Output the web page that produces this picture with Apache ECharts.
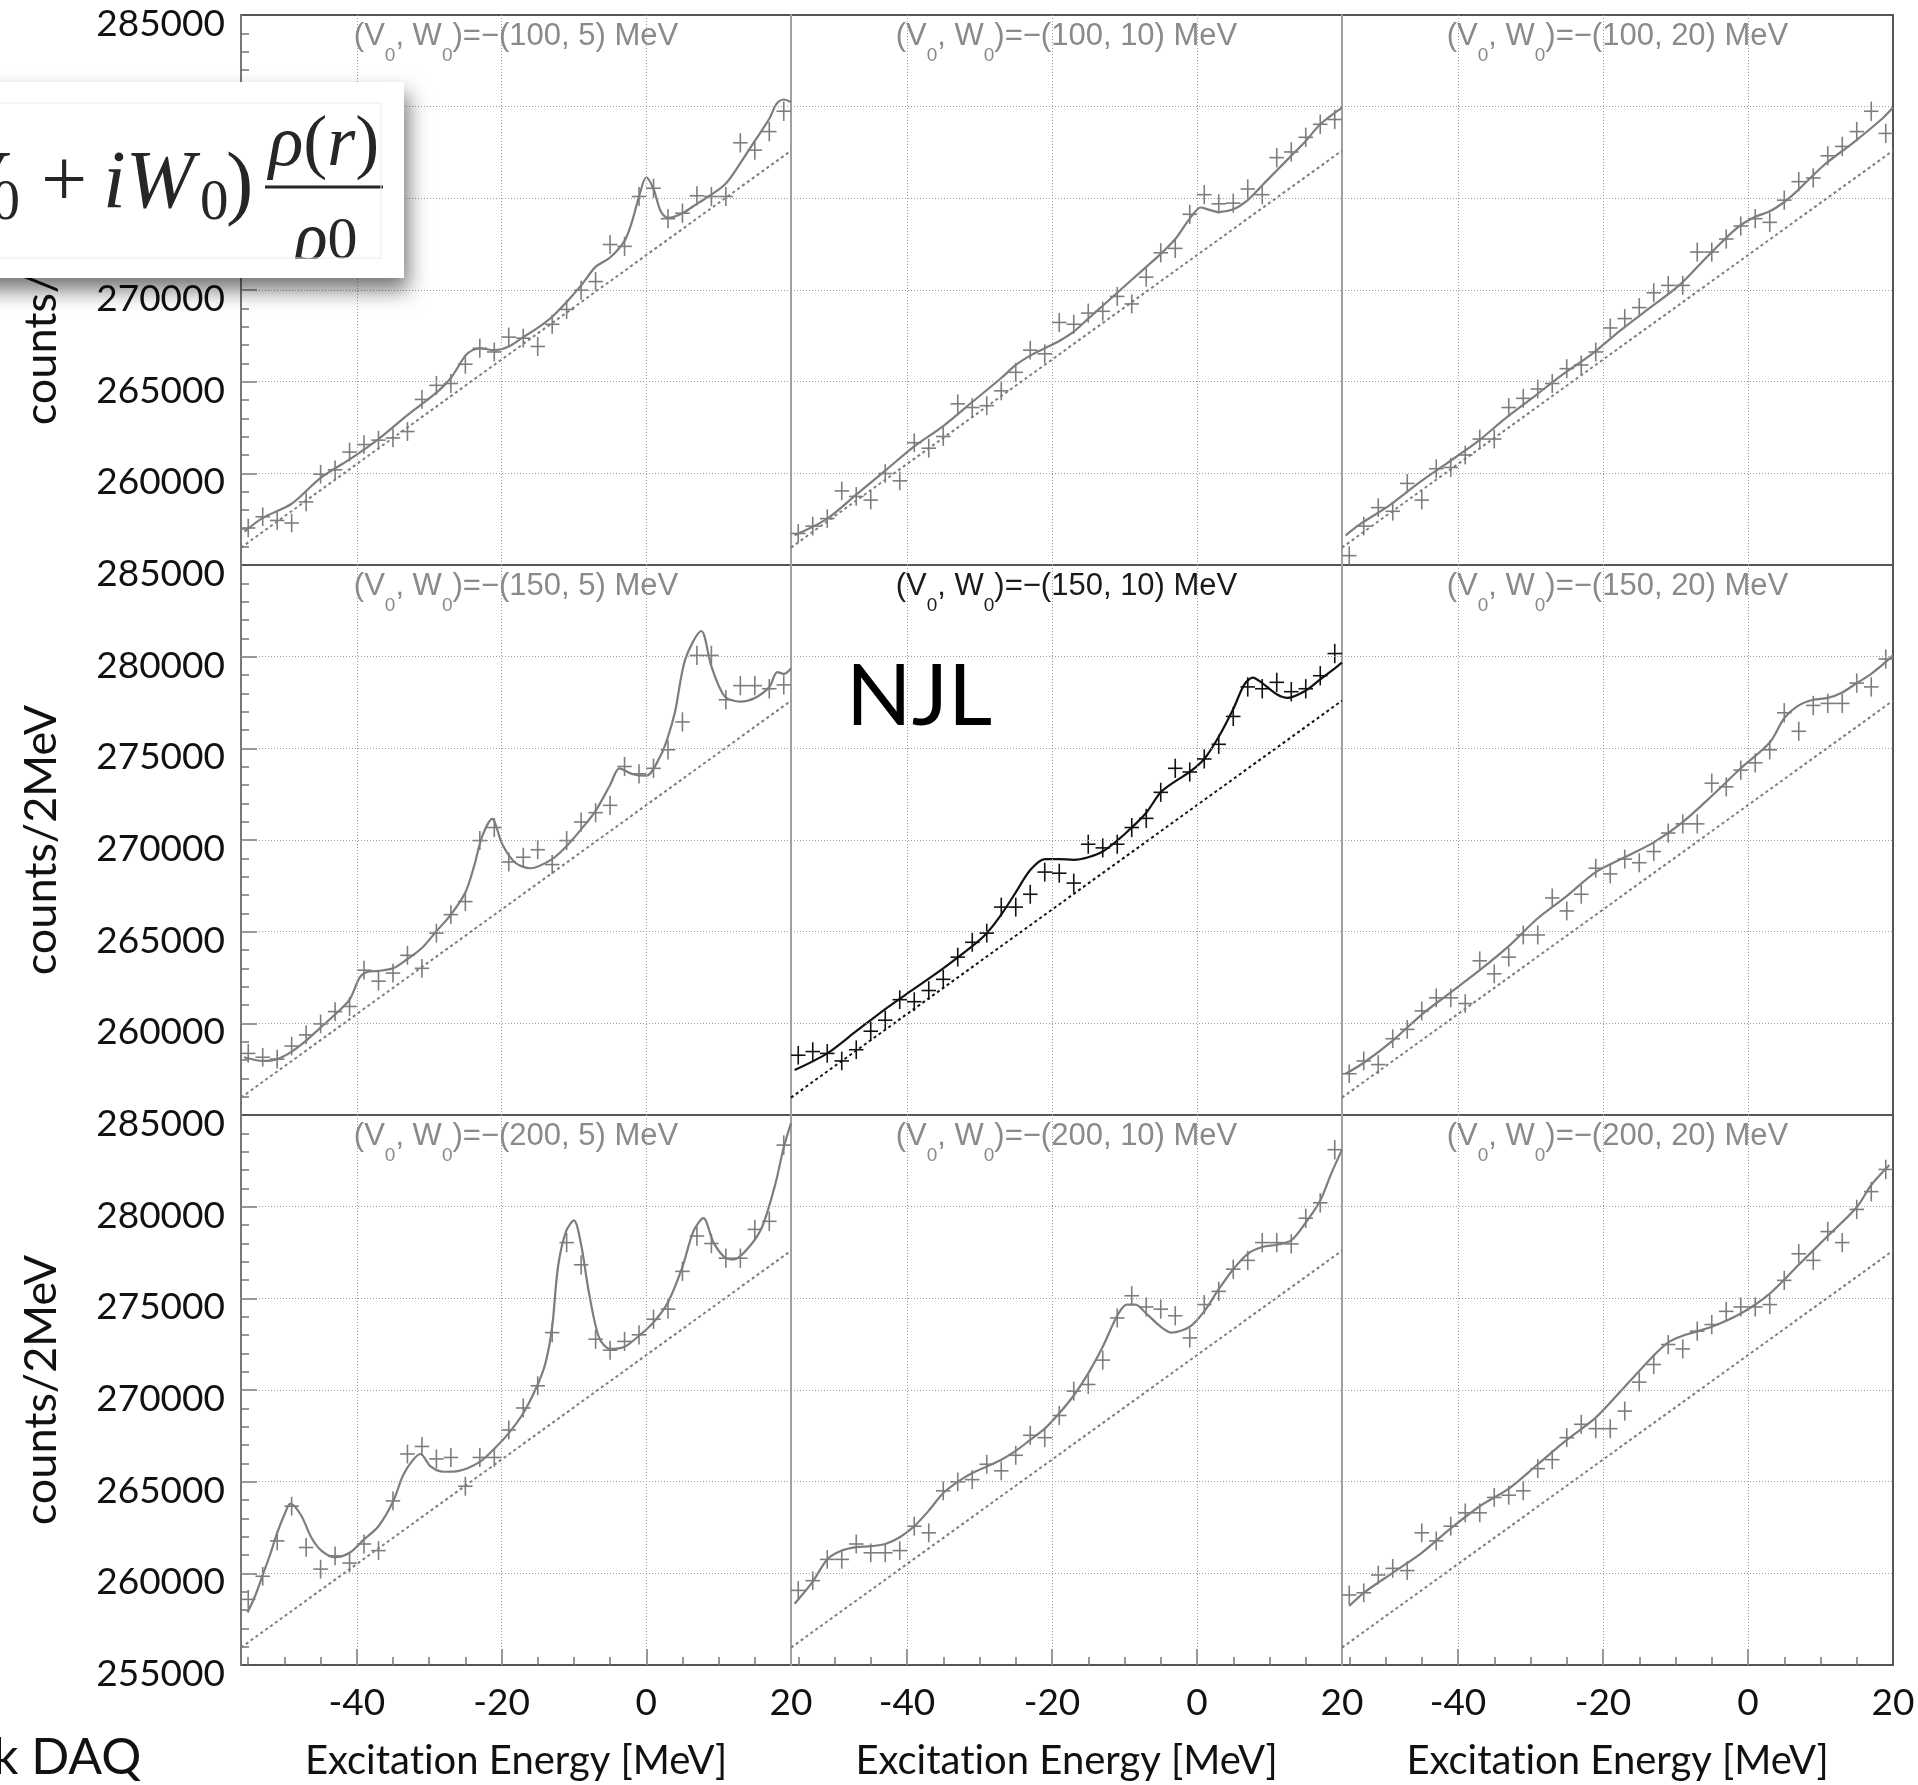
<!DOCTYPE html>
<html>
<head>
<meta charset="utf-8">
<script src="https://cdn.jsdelivr.net/npm/echarts@6/dist/echarts.min.js"></script>
<style>
  html, body { margin: 0; padding: 0; background: #fff; }
  #chart { width: 1918px; height: 1785px; }
</style>
</head>
<body>
<div id="chart"></div>
<script>
// Bin centres of the 2 MeV excitation-energy histogram
const ENERGY = [-55, -53, -51, -49, -47, -45, -43, -41, -39, -37, -35, -33, -31, -29, -27, -25, -23, -21, -19,
                -17, -15, -13, -11, -9, -7, -5, -3, -1, 1, 3, 5, 7, 9, 11, 13, 15, 17, 19];

// Linear background used in every panel
const BACKGROUND = [[-56, 255950], [20, 277600]];

// Axis ticks and labels
const X_LABELS = [-40, -20, 0, 20];
const X_MAJOR = [-40, -20, 0];
const X_MINOR = [-55, -50, -45, -35, -30, -25, -15, -10, -5, 5, 10, 15];
const Y_LABELS = [260000, 265000, 270000, 275000, 280000, 285000];
const Y_LABELS_BOTTOM = [255000, 260000, 265000, 270000, 275000, 280000, 285000];
const Y_MAJOR = [260000, 265000, 270000, 275000, 280000];
const Y_MINOR = [256000, 257000, 258000, 259000, 261000, 262000, 263000, 264000, 266000, 267000, 268000, 269000,
                 271000, 272000, 273000, 274000, 276000, 277000, 278000, 279000, 281000, 282000, 283000, 284000];

// Counts per bin, one array per potential depth (V0, W0)
const COUNTS_100_5 = [257020, 257630, 257430, 257290, 258440, 259950, 260190, 261160, 261570, 261810, 261930, 262280,
  264030, 264800, 264900, 265950, 266820, 266620, 267430, 267370, 266920, 268130, 268940, 269990, 270460, 272480,
  272380, 275100, 275550, 273890, 274190, 275140, 275100, 275100, 278030, 277630, 278640, 279750];
const COUNTS_100_10 = [256720, 257120, 257530, 259040, 258740, 258540, 259990, 259590, 261670, 261370, 262010, 263790,
  263590, 263690, 264500, 265510, 266720, 266520, 268230, 268130, 268740, 268840, 269650, 269240, 270700, 272030,
  272270, 274130, 275200, 274700, 274740, 275510, 275200, 277220, 277530, 278330, 279040, 279300];
const COUNTS_100_20 = [255510, 257120, 258130, 257930, 259450, 258540, 260250, 260320, 261000, 261870, 261870, 263590,
  264090, 264600, 264900, 265710, 265910, 266620, 267930, 268440, 269040, 269850, 270250, 270250, 272070, 272070,
  272780, 273490, 273890, 273690, 274900, 275910, 276110, 277320, 277830, 278640, 279750, 278540];
const COUNTS_150_5 = [258360, 258150, 258050, 258760, 259370, 259970, 260640, 260920, 262900, 262300, 262740, 263710,
  263000, 264920, 265930, 266640, 269970, 270680, 268800, 269060, 269470, 268660, 269970, 270980, 271490, 271890,
  274010, 273610, 273910, 274920, 276440, 280070, 280070, 277650, 278420, 278420, 278250, 278460];
const COUNTS_150_10 = [258260, 258460, 258360, 257950, 258560, 259570, 260170, 261290, 261180, 261790, 262400, 263610,
  264420, 264920, 266340, 266340, 267040, 268250, 268190, 267650, 269770, 269570, 269770, 270680, 271180, 272600,
  273910, 273710, 274420, 275220, 276740, 278350, 278250, 278600, 278090, 278250, 278960, 280170];
const COUNTS_150_20 = [257250, 257950, 257750, 259160, 259670, 260680, 261390, 261390, 261080, 263410, 262700, 263610,
  264820, 264820, 266840, 266130, 267040, 268460, 268150, 268960, 268760, 269370, 270380, 270880, 270880, 273100,
  272900, 273810, 274210, 274920, 276940, 275930, 277340, 277450, 277450, 278560, 278350, 279870];
const COUNTS_200_5 = [258580, 259840, 261770, 263660, 261410, 260230, 260950, 260560, 261600, 261240, 263950, 266510,
  266920, 266240, 266320, 264750, 266320, 266320, 267820, 269020, 270230, 273130, 278040, 276830, 272770, 272170,
  272650, 273010, 273860, 274410, 276470, 278400, 277990, 277190, 277190, 278760, 279200, 283360];
const COUNTS_200_10 = [259070, 259600, 260760, 260760, 261600, 261120, 261120, 261240, 262570, 262210, 264500, 264990,
  265110, 265950, 265590, 266440, 267530, 267400, 268610, 269940, 270300, 271630, 273930, 275140, 274530, 274410,
  274050, 272840, 274660, 275380, 276590, 277070, 278040, 278040, 277970, 279370, 280210, 283110];
const COUNTS_200_20 = [258820, 258940, 259910, 260270, 260150, 262210, 261770, 262570, 263300, 263300, 264140, 264260,
  264500, 265710, 266200, 267400, 268130, 267890, 267890, 268850, 270430, 271390, 272480, 272240, 273210, 273570,
  274290, 274530, 274530, 274660, 275980, 277430, 277070, 278640, 278040, 279850, 280820, 282030];

// Calculated spectra [energy, counts]
const FIT_100_5 = [[-55.5, 256820], [-53, 257570], [-49, 258340], [-45, 259750], [-41, 260760], [-37, 261870],
  [-33, 263180], [-29, 264400], [-27, 265200], [-25, 266420], [-24, 266720], [-23, 266820], [-21, 266720],
  [-19, 266920], [-17, 267430], [-15, 267930], [-13, 268540], [-11, 269350], [-9, 270250], [-7, 271260],
  [-5, 271770], [-3, 272680], [-2, 273690], [-1, 275100], [0, 276150], [1, 275510], [2, 274290], [3, 273930],
  [5, 274190], [7, 274700], [9, 275200], [11, 275810], [13, 276920], [15, 278130], [17, 279340], [18, 280150],
  [19, 280390], [20, 280250]];
const FIT_100_10 = [[-55.5, 256620], [-51, 257530], [-47, 258840], [-43, 260150], [-39, 261470], [-35, 262580],
  [-31, 263890], [-27, 265200], [-25, 265910], [-23, 266420], [-21, 266820], [-19, 267220], [-17, 267730],
  [-15, 268440], [-13, 269140], [-11, 269850], [-9, 270560], [-7, 271260], [-5, 271970], [-3, 272780],
  [-1, 273890], [0.5, 274500], [1.5, 274400], [3, 274250], [5, 274400], [7, 274900], [9, 275710], [11, 276520],
  [13, 277320], [15, 278130], [17, 279040], [20, 279950]];
const FIT_100_20 = [[-55.5, 256620], [-53.5, 257230], [-49.5, 258240], [-45.5, 259450], [-41.5, 260560],
  [-37.5, 261670], [-33.5, 262980], [-29.5, 264190], [-25.5, 265410], [-21.5, 266520], [-17.5, 267830],
  [-13.5, 269040], [-9.5, 270250], [-5.5, 271870], [-1.5, 273390], [1, 273990], [3, 274290], [5, 274800],
  [6.5, 275300], [10.5, 276820], [14.5, 278030], [18.5, 279340], [20, 279950]];
const FIT_150_5 = [[-55.6, 258150], [-53, 257950], [-51, 258050], [-49, 258460], [-47, 259060], [-45, 259770],
  [-43, 260480], [-41, 261290], [-39.6, 262500], [-38.6, 262800], [-37, 262860], [-35, 263000], [-33, 263510],
  [-31, 264110], [-29, 265020], [-27, 265930], [-25, 267140], [-23.8, 268560], [-22.7, 270170], [-21.3, 271150],
  [-19.9, 269770], [-18.1, 268760], [-16, 268460], [-13, 268960], [-11, 269670], [-9, 270580], [-7, 271590],
  [-5, 273000], [-3.7, 273910], [-2, 273610], [0, 273510], [2, 274620], [3, 275630], [4, 277040], [5.4, 279870],
  [7.6, 281400], [9, 279470], [10.8, 277850], [13, 277550], [15, 277750], [17, 278350], [18.1, 279160],
  [19, 279060], [20, 279360]];
const FIT_150_10 = [[-55.5, 257450], [-51, 258360], [-47, 259570], [-43, 260780], [-39, 261890], [-35, 263000],
  [-31, 264210], [-29, 264920], [-27, 265930], [-25, 267140], [-23, 268360], [-21, 268960], [-19, 268960],
  [-17, 268920], [-15, 269060], [-13, 269370], [-11, 269970], [-9, 270680], [-7, 271490], [-5, 272600],
  [-3, 273200], [-1, 273710], [1, 274420], [3, 275630], [5, 277140], [6.5, 278460], [7.7, 278860], [9, 278560],
  [11, 277950], [12.5, 277750], [15, 278150], [17, 278760], [19, 279360], [20, 279670]];
const FIT_150_20 = [[-55.5, 257250], [-53, 257850], [-49, 259060], [-45, 260480], [-41, 261690], [-37, 262900],
  [-33, 264210], [-29, 265730], [-25, 266940], [-21, 268250], [-17, 269060], [-13, 269870], [-9, 270980],
  [-5, 272400], [-1, 273910], [3, 275320], [5, 276640], [7, 277340], [9, 277650], [11, 277750], [13, 278050],
  [15, 278560], [17, 279060], [20, 280070]];
const FIT_200_5 = [[-55.1, 257860], [-54, 258820], [-53, 259910], [-52, 261000], [-51, 262210], [-49.8, 263400],
  [-49.2, 263800], [-47.7, 263170], [-46.3, 261970], [-44.9, 261240], [-43, 260880], [-41, 261120], [-39, 261850],
  [-37, 262570], [-35, 263900], [-33.6, 265350], [-32.2, 266200], [-31.2, 266510], [-29.8, 265830], [-28, 265540],
  [-25.9, 265590], [-23, 266080], [-21, 266800], [-19, 267650], [-17, 268730], [-15, 270300], [-13.9, 271510],
  [-13, 273450], [-12.2, 276710], [-11.1, 278640], [-10, 279250], [-9, 277920], [-7.9, 275260], [-6.5, 272840],
  [-5, 272240], [-3, 272360], [-1, 272960], [1, 273690], [3, 274780], [5, 276710], [6.5, 278640], [7.9, 279370],
  [9.3, 278040], [11, 277190], [12.1, 277120], [14.2, 277800], [16, 278890], [17.8, 281180], [19, 283240],
  [20, 284560]];
const FIT_200_10 = [[-55.5, 258340], [-53, 259550], [-51, 260760], [-49, 261240], [-47, 261430], [-45, 261480],
  [-43, 261600], [-41, 261970], [-39, 262570], [-37, 263420], [-35, 264380], [-33, 264990], [-31, 265470],
  [-29, 265830], [-27, 266200], [-25, 266680], [-23, 267280], [-21, 267890], [-19, 268730], [-17, 269700],
  [-15, 270910], [-13, 272360], [-11, 274050], [-9.7, 274660], [-8.5, 274660], [-7, 274170], [-5, 273450],
  [-3.5, 273130], [-1, 273450], [1, 274290], [3, 275500], [5, 276590], [7, 277430], [9, 277800], [11, 277920],
  [13, 278160], [15, 279130], [17, 280340], [18.5, 281790], [20, 283110]];
const FIT_200_20 = [[-55, 258220], [-53, 258940], [-49, 260030], [-45, 261120], [-41, 262450], [-37, 263660],
  [-33, 264620], [-29, 265950], [-25, 267280], [-21, 268490], [-17, 270180], [-13, 271880], [-11, 272600],
  [-9, 272960], [-5, 273450], [-1, 274170], [3, 275260], [7, 276830], [11, 278400], [15, 279970], [17, 281180],
  [19.5, 282270]];

// Panel table, row by row (V0 = 100, 150, 200 MeV; W0 = 5, 10, 20 MeV)
const PANELS = [
  { v: 100, w: 5, counts: COUNTS_100_5, fit: FIT_100_5 },
  { v: 100, w: 10, counts: COUNTS_100_10, fit: FIT_100_10 },
  { v: 100, w: 20, counts: COUNTS_100_20, fit: FIT_100_20 },
  { v: 150, w: 5, counts: COUNTS_150_5, fit: FIT_150_5 },
  { v: 150, w: 10, counts: COUNTS_150_10, fit: FIT_150_10, highlight: true },
  { v: 150, w: 20, counts: COUNTS_150_20, fit: FIT_150_20 },
  { v: 200, w: 5, counts: COUNTS_200_5, fit: FIT_200_5 },
  { v: 200, w: 10, counts: COUNTS_200_10, fit: FIT_200_10 },
  { v: 200, w: 20, counts: COUNTS_200_20, fit: FIT_200_20 }
];

// Layout of the 3 x 3 panel matrix (pixels)
const GRID_LEFT = [241, 791, 1342];
const GRID_WIDTH = [550, 551, 551];
const GRID_TOP = [15, 565, 1115];
const GRID_HEIGHT = 550;

const GREY = '#7d7d7d';
const DARK = '#111111';
const LABEL_FONT = 'Lato, "Open Sans", sans-serif';
const PLOT_FONT = '"Liberation Sans", Arial, sans-serif';
const SERIF = '"Liberation Serif", "DejaVu Serif", serif';

const grids = [], xAxes = [], yAxes = [], series = [], graphics = [];

PANELS.forEach(function (p, i) {
  const r = Math.floor(i / 3), c = i % 3;
  const color = p.highlight ? DARK : GREY;
  const bottomRow = r === 2, firstCol = c === 0;

  grids.push({
    left: GRID_LEFT[c], top: GRID_TOP[r], width: GRID_WIDTH[c], height: GRID_HEIGHT,
    show: true, borderColor: '#555555', borderWidth: 2, backgroundColor: 'transparent'
  });

  const tickLine = { color: '#777', width: 1.5 };
  const noLine = { show: false, onZero: false };
  // main x axis: labels and long ticks
  xAxes.push({
    gridIndex: i, type: 'value', min: -56, max: 20, position: 'bottom',
    axisLine: noLine, splitLine: { show: false },
    axisTick: { show: bottomRow, inside: true, length: 16, customValues: X_MAJOR, lineStyle: tickLine },
    axisLabel: { show: bottomRow, customValues: X_LABELS, margin: 20, color: DARK,
                 fontFamily: LABEL_FONT, fontSize: 37, lineHeight: 37 }
  });
  // minor x ticks
  xAxes.push({
    gridIndex: i, type: 'value', min: -56, max: 20, position: 'bottom', show: bottomRow,
    axisLine: noLine, splitLine: { show: false }, axisLabel: { show: false },
    axisTick: { show: true, inside: true, length: 8, customValues: X_MINOR, lineStyle: tickLine }
  });
  // main y axis; its line lightens the vertical panel edges, labels sit slightly below their grid line
  yAxes.push({
    gridIndex: i, type: 'value', min: 255000, max: 285000, position: 'left',
    axisLine: { show: true, onZero: false, lineStyle: { color: firstCol ? '#777777' : '#a0a0a0', width: 2 } },
    splitLine: { show: false },
    axisTick: { show: firstCol, inside: true, length: 16, customValues: Y_MAJOR, lineStyle: tickLine },
    axisLabel: {
      show: firstCol, customValues: bottomRow ? Y_LABELS_BOTTOM : Y_LABELS, margin: 16,
      formatter: function (v) { return '{n|' + v + '}'; },
      rich: { n: { color: DARK, fontFamily: LABEL_FONT, fontSize: 37, padding: [18, 0, 0, 0] } }
    }
  });
  // minor y ticks
  yAxes.push({
    gridIndex: i, type: 'value', min: 255000, max: 285000, position: 'left', show: firstCol,
    axisLine: noLine, splitLine: { show: false }, axisLabel: { show: false },
    axisTick: { show: true, inside: true, length: 8, customValues: Y_MINOR, lineStyle: tickLine }
  });

  const xi = 2 * i, yi = 2 * i;

  // background line + dotted grid
  series.push({
    type: 'line', xAxisIndex: xi, yAxisIndex: yi, data: BACKGROUND, showSymbol: false, silent: true, z: 2,
    lineStyle: { color: color, width: 2, type: [3, 3] },
    markLine: {
      silent: true, symbol: ['none', 'none'], label: { show: false }, animation: false,
      lineStyle: { color: '#9c9c9c', width: 1, type: [1, 2] },
      emphasis: { disabled: true },
      data: X_MAJOR.map(function (v) { return { xAxis: v }; })
        .concat(Y_MAJOR.map(function (v) { return { yAxis: v }; }))
    }
  });

  // calculated spectrum
  series.push({
    type: 'line', xAxisIndex: xi, yAxisIndex: yi, data: p.fit, smooth: 0.3, showSymbol: false,
    silent: true, z: 3, lineStyle: { color: color, width: 2.2 }
  });

  // measured counts with bin width and statistical error
  series.push({
    type: 'custom', xAxisIndex: xi, yAxisIndex: yi, z: 4, silent: true, clip: false,
    data: ENERGY.map(function (e, k) { return [e, p.counts[k]]; }),
    encode: { x: 0, y: 1 },
    renderItem: function (params, api) {
      const x = api.value(0), y = api.value(1);
      const err = Math.sqrt(y);
      const a = api.coord([x - 1, y]), b = api.coord([x + 1, y]);
      const lo = api.coord([x, y - err]), hi = api.coord([x, y + err]);
      const style = { stroke: color, lineWidth: 1.6 };
      return {
        type: 'group',
        children: [
          { type: 'line', shape: { x1: a[0], y1: a[1], x2: b[0], y2: b[1] }, style: style },
          { type: 'line', shape: { x1: lo[0], y1: lo[1], x2: hi[0], y2: hi[1] }, style: style }
        ]
      };
    }
  });

  // panel caption
  graphics.push({
    type: 'text', x: GRID_LEFT[c] + GRID_WIDTH[c] / 2, y: GRID_TOP[r] + 21, z: 10,
    style: {
      text: '(V{s|0}, W{s|0})=\u2212(' + p.v + ', ' + p.w + ') MeV',
      fill: p.highlight ? '#1a1a1a' : '#8a8a8a', fontFamily: PLOT_FONT, fontSize: 31,
      align: 'center', verticalAlign: 'middle',
      rich: { s: { fontSize: 19, fontFamily: PLOT_FONT, fill: p.highlight ? '#1a1a1a' : '#8a8a8a',
                   padding: [40, 0, 0, 0] } }
    }
  });
});

// axis titles (two text runs so the font does not join "ti")
[0, 1, 2].forEach(function (c) {
  graphics.push({
    type: 'text', x: GRID_LEFT[c] + GRID_WIDTH[c] / 2, y: 1761, z: 10,
    style: { text: '{t|Excitat}{t|ion Energy [MeV]}', fill: DARK, fontFamily: LABEL_FONT, fontSize: 40,
             align: 'center', verticalAlign: 'middle',
             rich: { t: { fill: DARK, fontFamily: LABEL_FONT, fontSize: 40 } } }
  });
});
[0, 1, 2].forEach(function (r) {
  graphics.push({
    type: 'text', x: 41, y: GRID_TOP[r] + GRID_HEIGHT / 2, rotation: Math.PI / 2, z: 10,
    style: { text: 'counts/2MeV', fill: DARK, fontFamily: LABEL_FONT, fontSize: 45,
             align: 'center', verticalAlign: 'middle' }
  });
});

// model tag on the highlighted panel
graphics.push({
  type: 'text', x: 846, y: 697, z: 10,
  style: { text: 'NJL', fill: '#000', fontFamily: LABEL_FONT, fontSize: 86, align: 'left', verticalAlign: 'middle' }
});

// footer fragment
graphics.push({
  type: 'text', x: -7, y: 1758, z: 10,
  style: { text: 'k DAQ', fill: DARK, fontFamily: LABEL_FONT, fontSize: 50, align: 'left', verticalAlign: 'middle' }
});

// optical potential inset: (V0 + iW0) rho(r)/rho0
const INK = '#262626';
graphics.push(
  { type: 'rect', z: 100, shape: { x: -30, y: 82, width: 434, height: 196 },
    style: { fill: '#ffffff', shadowBlur: 20, shadowOffsetX: 4, shadowOffsetY: 12, shadowColor: 'rgba(0,0,0,0.55)' } },
  { type: 'text', z: 101, x: 2, y: 185,
    style: { text: 'V', fill: INK, fontFamily: SERIF, fontStyle: 'italic', fontSize: 82, align: 'right', verticalAlign: 'middle' } },
  { type: 'text', z: 101, x: 20, y: 204,
    style: { text: '0', fill: INK, fontFamily: SERIF, fontSize: 57, align: 'right', verticalAlign: 'middle' } },
  { type: 'text', z: 101, x: 64, y: 184,
    style: { text: '+', fill: INK, fontFamily: SERIF, fontSize: 82, align: 'center', verticalAlign: 'middle' } },
  { type: 'text', z: 101, x: 103, y: 185,
    style: { text: 'iW', fill: INK, fontFamily: SERIF, fontStyle: 'italic', fontSize: 82, align: 'left', verticalAlign: 'middle' } },
  { type: 'text', z: 101, x: 200, y: 204,
    style: { text: '0', fill: INK, fontFamily: SERIF, fontSize: 57, align: 'left', verticalAlign: 'middle' } },
  { type: 'text', z: 101, x: 226, y: 187,
    style: { text: ')', fill: INK, fontFamily: SERIF, fontSize: 82, align: 'left', verticalAlign: 'middle' } },
  { type: 'text', z: 101, x: 324, y: 146,
    style: { text: '{i|\u03c1}({i|r})', fill: INK, fontFamily: SERIF, fontSize: 72, align: 'center', verticalAlign: 'middle',
             rich: { i: { fontFamily: SERIF, fontStyle: 'italic', fontSize: 72, fill: INK } } } },
  { type: 'line', z: 101, shape: { x1: 265, y1: 187, x2: 383, y2: 187 }, style: { stroke: INK, lineWidth: 3 } },
  { type: 'text', z: 101, x: 294, y: 242,
    style: { text: '{i|\u03c1}0', fill: INK, fontFamily: SERIF, fontSize: 60, align: 'left', verticalAlign: 'middle',
             rich: { i: { fontFamily: SERIF, fontStyle: 'italic', fontSize: 70, fill: INK } } } },
  { type: 'rect', z: 102, shape: { x: -30, y: 259, width: 433, height: 18 }, style: { fill: '#ffffff' } },
  { type: 'rect', z: 103, shape: { x: -30, y: 103, width: 411, height: 155 },
    style: { fill: 'none', stroke: '#ebebeb', lineWidth: 1 } }
);

const chart = echarts.init(document.getElementById('chart'), null, { renderer: 'canvas', width: 1918, height: 1785 });
chart.setOption({
  animation: false,
  backgroundColor: '#ffffff',
  grid: grids,
  xAxis: xAxes,
  yAxis: yAxes,
  series: series,
  graphic: { elements: graphics }
});
</script>
</body>
</html>
